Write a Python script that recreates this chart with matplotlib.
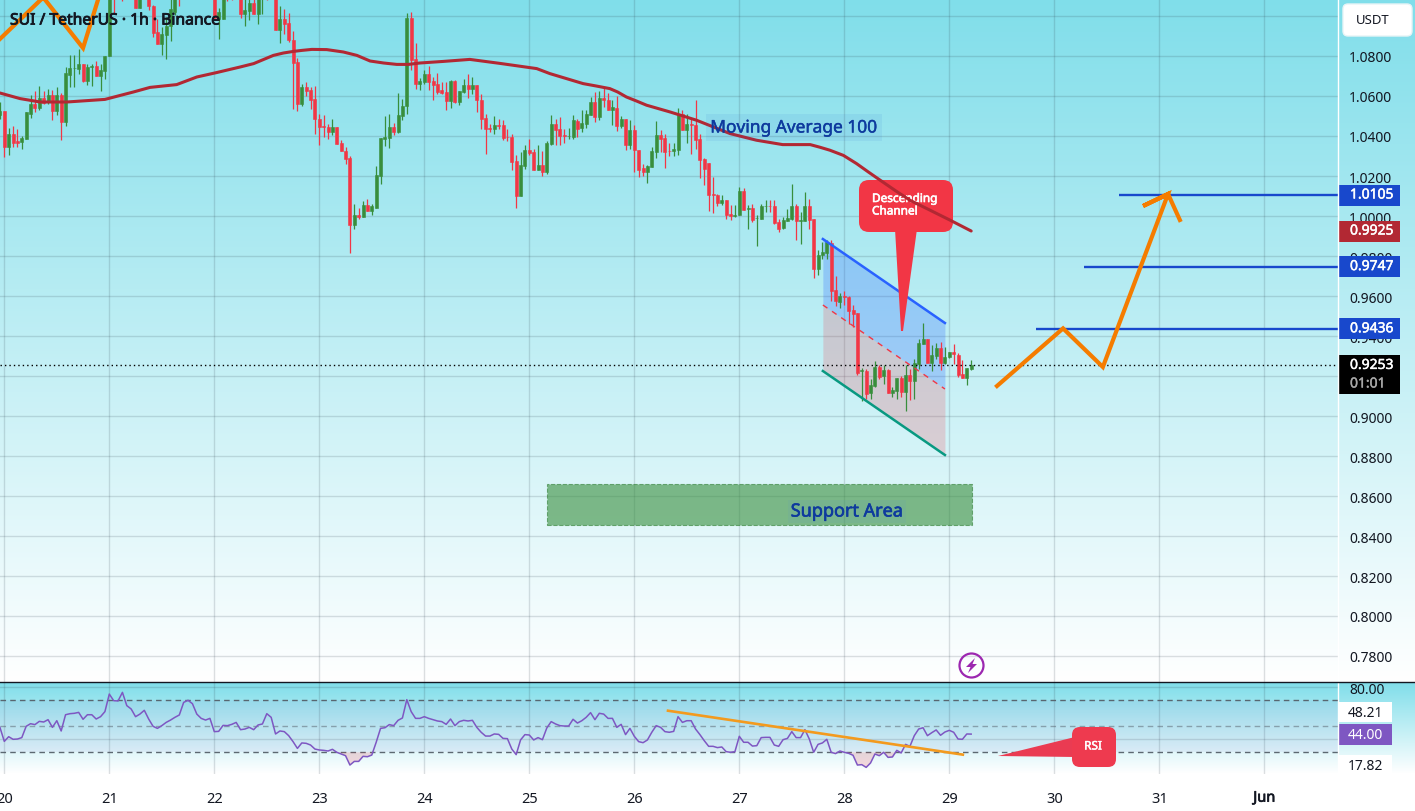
"""
SUI / TetherUS 1h candles with MA 100, descending channel and RSI pane
"""
import numpy as np
import matplotlib
matplotlib.use('Agg')
import matplotlib.pyplot as plt
import matplotlib.patheffects as pe
from matplotlib.lines import Line2D
from matplotlib.patches import Circle, FancyBboxPatch, Polygon, Rectangle
from matplotlib.transforms import Affine2D, blended_transform_factory

plt.rcParams['font.family'] = ['Noto Sans', 'DejaVu Sans']

# hourly candles, first one is the last hour of May 19
opens = [
    1.0504, 1.0527, 1.0347, 1.0412, 1.0375, 1.0372, 1.0387, 1.0512, 1.0560, 1.0542,
    1.0590, 1.0570, 1.0605, 1.0524, 1.0605, 1.0472, 1.0707, 1.0739, 1.0737, 1.0762,
    1.0677, 1.0744, 1.0752, 1.0702, 1.0727, 1.0800, 1.1140, 1.1100, 1.1130, 1.1130,
    1.1110, 1.1160, 1.1042, 1.1130, 1.1120, 1.1050, 1.0920, 1.0862, 1.0907, 1.0950,
    1.1020, 1.1130, 1.1095, 1.1130, 1.1110, 1.1150, 1.1120, 1.1170, 1.1140, 1.1170,
    1.0987, 1.0987, 1.1120, 1.1100, 1.1095, 1.1130, 1.1012, 1.1025, 1.1067, 1.1012,
    1.1090, 1.1120, 1.1095, 1.1130, 1.0932, 1.0987, 1.0967, 1.0882, 1.0770, 1.0559,
    1.0647, 1.0632, 1.0587, 1.0487, 1.0452, 1.0447, 1.0420, 1.0447, 1.0367, 1.0327,
    1.0292, 0.9957, 1.0007, 0.9997, 1.0057, 1.0027, 1.0042, 1.0202, 1.0387, 1.0392,
    1.0447, 1.0420, 1.0502, 1.0552, 1.0992, 1.0787, 1.0662, 1.0670, 1.0712, 1.0677,
    1.0662, 1.0632, 1.0622, 1.0577, 1.0677, 1.0572, 1.0622, 1.0657, 1.0637, 1.0657,
    1.0582, 1.0492, 1.0442, 1.0437, 1.0457, 1.0457, 1.0397, 1.0397, 1.0277, 1.0102,
    1.0252, 1.0332, 1.0322, 1.0232, 1.0257, 1.0222, 1.0362, 1.0462, 1.0437, 1.0407,
    1.0399, 1.0397, 1.0477, 1.0442, 1.0462, 1.0507, 1.0572, 1.0497, 1.0592, 1.0582,
    1.0532, 1.0542, 1.0452, 1.0487, 1.0357, 1.0432, 1.0332, 1.0242, 1.0222, 1.0247,
    1.0322, 1.0407, 1.0392, 1.0327, 1.0327, 1.0332, 1.0512, 1.0432, 1.0462, 1.0457,
    1.0387, 1.0287, 1.0267, 1.0112, 1.0107, 1.0067, 1.0082, 1.0012, 1.0000, 1.0007,
    1.0127, 1.0037, 1.0042, 0.9989, 0.9987, 1.0049, 1.0052, 1.0052, 0.9972, 0.9942,
    0.9977, 0.9987, 1.0052, 0.9977, 0.9977, 1.0052, 0.9987, 0.9737, 0.9807, 0.9817,
    0.9867, 0.9632, 0.9570, 0.9600, 0.9595, 0.9532, 0.9517, 0.9227, 0.9227, 0.9117,
    0.9152, 0.9247, 0.9202, 0.9232, 0.9117, 0.9127, 0.9192, 0.9122, 0.9207, 0.9177,
    0.9262, 0.9362, 0.9387, 0.9267, 0.9302, 0.9342, 0.9267, 0.9294, 0.9322, 0.9307,
    0.9212, 0.9192, 0.9237]
highs = [
    1.0570, 1.0527, 1.0440, 1.0450, 1.0437, 1.0400, 1.0520, 1.0604, 1.0625, 1.0650,
    1.0625, 1.0637, 1.0629, 1.0645, 1.0617, 1.0745, 1.0804, 1.0807, 1.0837, 1.0762,
    1.0762, 1.0762, 1.0777, 1.0762, 1.0802, 1.1160, 1.1180, 1.1150, 1.1160, 1.1170,
    1.1180, 1.1190, 1.1180, 1.1160, 1.1150, 1.1054, 1.0987, 1.0945, 1.0995, 1.1100,
    1.1150, 1.1170, 1.1160, 1.1180, 1.1170, 1.1190, 1.1200, 1.1210, 1.1190, 1.1200,
    1.1040, 1.1150, 1.1150, 1.1140, 1.1150, 1.1160, 1.1090, 1.1095, 1.1095, 1.1130,
    1.1130, 1.1140, 1.1150, 1.1160, 1.1050, 1.1034, 1.1017, 1.0925, 1.0790, 1.0662,
    1.0670, 1.0645, 1.0650, 1.0512, 1.0504, 1.0462, 1.0487, 1.0447, 1.0382, 1.0345,
    1.0300, 1.0062, 1.0042, 1.0077, 1.0087, 1.0062, 1.0250, 1.0392, 1.0499, 1.0512,
    1.0467, 1.0617, 1.0587, 1.1017, 1.1020, 1.0867, 1.0692, 1.0732, 1.0750, 1.0695,
    1.0717, 1.0670, 1.0670, 1.0682, 1.0682, 1.0627, 1.0687, 1.0712, 1.0695, 1.0657,
    1.0612, 1.0512, 1.0462, 1.0500, 1.0487, 1.0479, 1.0434, 1.0412, 1.0304, 1.0320,
    1.0357, 1.0387, 1.0337, 1.0357, 1.0324, 1.0377, 1.0507, 1.0487, 1.0495, 1.0437,
    1.0440, 1.0504, 1.0487, 1.0529, 1.0529, 1.0595, 1.0620, 1.0624, 1.0645, 1.0617,
    1.0579, 1.0600, 1.0500, 1.0487, 1.0479, 1.0457, 1.0332, 1.0262, 1.0257, 1.0345,
    1.0477, 1.0432, 1.0412, 1.0367, 1.0367, 1.0540, 1.0529, 1.0512, 1.0487, 1.0582,
    1.0412, 1.0290, 1.0267, 1.0195, 1.0112, 1.0104, 1.0082, 1.0057, 1.0054, 1.0145,
    1.0140, 1.0057, 1.0062, 1.0004, 1.0062, 1.0079, 1.0082, 1.0079, 0.9987, 0.9995,
    1.0037, 1.0162, 1.0062, 1.0020, 1.0120, 1.0084, 0.9987, 0.9829, 0.9870, 0.9882,
    0.9879, 0.9700, 0.9617, 0.9624, 0.9600, 0.9557, 0.9517, 0.9240, 0.9237, 0.9187,
    0.9274, 0.9257, 0.9257, 0.9237, 0.9145, 0.9192, 0.9199, 0.9254, 0.9237, 0.9287,
    0.9387, 0.9467, 0.9387, 0.9354, 0.9367, 0.9370, 0.9345, 0.9322, 0.9362, 0.9315,
    0.9282, 0.9242, 0.9282]
lows = [
    1.0487, 1.0294, 1.0304, 1.0345, 1.0347, 1.0334, 1.0387, 1.0492, 1.0520, 1.0529,
    1.0562, 1.0562, 1.0479, 1.0504, 1.0379, 1.0449, 1.0645, 1.0645, 1.0712, 1.0670,
    1.0657, 1.0650, 1.0700, 1.0627, 1.0687, 1.0799, 1.1012, 1.1095, 1.1074, 1.1095,
    1.1095, 1.1042, 1.1042, 1.1095, 1.1029, 1.0895, 1.0862, 1.0804, 1.0784, 1.0874,
    1.1004, 1.1050, 1.1092, 1.1095, 1.1095, 1.1100, 1.1100, 1.1130, 1.1120, 1.0979,
    1.0884, 1.0987, 1.1074, 1.1079, 1.1090, 1.0990, 1.0949, 1.0979, 1.1012, 1.0962,
    1.1009, 1.1079, 1.1090, 1.0932, 1.0867, 1.0912, 1.0870, 1.0537, 1.0524, 1.0550,
    1.0600, 1.0534, 1.0412, 1.0354, 1.0395, 1.0387, 1.0407, 1.0362, 1.0325, 1.0259,
    0.9817, 0.9934, 0.9984, 0.9997, 1.0027, 1.0004, 1.0042, 1.0162, 1.0352, 1.0342,
    1.0407, 1.0415, 1.0482, 1.0512, 1.0729, 1.0634, 1.0629, 1.0662, 1.0629, 1.0582,
    1.0612, 1.0612, 1.0532, 1.0542, 1.0567, 1.0557, 1.0617, 1.0592, 1.0612, 1.0520,
    1.0437, 1.0312, 1.0420, 1.0412, 1.0437, 1.0382, 1.0374, 1.0229, 1.0042, 1.0102,
    1.0237, 1.0307, 1.0229, 1.0229, 1.0200, 1.0212, 1.0354, 1.0354, 1.0357, 1.0367,
    1.0387, 1.0387, 1.0395, 1.0420, 1.0440, 1.0504, 1.0470, 1.0479, 1.0545, 1.0529,
    1.0454, 1.0424, 1.0440, 1.0332, 1.0337, 1.0220, 1.0195, 1.0199, 1.0167, 1.0245,
    1.0290, 1.0320, 1.0242, 1.0300, 1.0299, 1.0307, 1.0429, 1.0367, 1.0312, 1.0337,
    1.0192, 1.0157, 1.0025, 1.0017, 1.0050, 1.0054, 0.9987, 0.9982, 0.9995, 1.0007,
    1.0032, 0.9937, 0.9970, 0.9849, 0.9987, 1.0020, 1.0020, 0.9962, 0.9920, 0.9934,
    0.9977, 0.9979, 0.9879, 0.9862, 0.9974, 0.9937, 0.9692, 0.9704, 0.9787, 0.9784,
    0.9574, 0.9550, 0.9542, 0.9557, 0.9462, 0.9445, 0.9207, 0.9074, 0.9087, 0.9087,
    0.9145, 0.9187, 0.9162, 0.9117, 0.9095, 0.9087, 0.9095, 0.9027, 0.9082, 0.9087,
    0.9237, 0.9362, 0.9267, 0.9227, 0.9287, 0.9232, 0.9262, 0.9292, 0.9262, 0.9195,
    0.9192, 0.9157, 0.9232]
closes = [
    1.0524, 1.0347, 1.0412, 1.0367, 1.0367, 1.0392, 1.0520, 1.0560, 1.0542, 1.0590,
    1.0567, 1.0605, 1.0527, 1.0605, 1.0472, 1.0717, 1.0742, 1.0742, 1.0762, 1.0677,
    1.0747, 1.0752, 1.0702, 1.0732, 1.0802, 1.1140, 1.1100, 1.1130, 1.1110, 1.1110,
    1.1160, 1.1042, 1.1130, 1.1100, 1.1050, 1.0917, 1.0862, 1.0912, 1.0950, 1.1037,
    1.1120, 1.1095, 1.1130, 1.1110, 1.1150, 1.1120, 1.1170, 1.1140, 1.1170, 1.0990,
    1.1020, 1.1100, 1.1095, 1.1090, 1.1130, 1.1012, 1.1032, 1.1067, 1.1012, 1.1090,
    1.1100, 1.1095, 1.1130, 1.0932, 1.0987, 1.0962, 1.0879, 1.0767, 1.0562, 1.0647,
    1.0627, 1.0582, 1.0484, 1.0447, 1.0444, 1.0422, 1.0447, 1.0362, 1.0327, 1.0287,
    0.9957, 1.0007, 0.9997, 1.0057, 1.0027, 1.0052, 1.0207, 1.0392, 1.0397, 1.0447,
    1.0422, 1.0507, 1.0552, 1.0992, 1.0782, 1.0662, 1.0677, 1.0712, 1.0672, 1.0657,
    1.0622, 1.0617, 1.0577, 1.0677, 1.0572, 1.0627, 1.0657, 1.0637, 1.0657, 1.0579,
    1.0487, 1.0437, 1.0437, 1.0457, 1.0452, 1.0392, 1.0394, 1.0272, 1.0102, 1.0257,
    1.0330, 1.0317, 1.0232, 1.0257, 1.0222, 1.0367, 1.0462, 1.0432, 1.0402, 1.0402,
    1.0402, 1.0482, 1.0437, 1.0467, 1.0512, 1.0572, 1.0497, 1.0592, 1.0579, 1.0532,
    1.0547, 1.0452, 1.0487, 1.0357, 1.0432, 1.0332, 1.0232, 1.0222, 1.0252, 1.0327,
    1.0407, 1.0387, 1.0322, 1.0324, 1.0337, 1.0512, 1.0432, 1.0462, 1.0457, 1.0382,
    1.0282, 1.0237, 1.0107, 1.0107, 1.0067, 1.0082, 1.0007, 1.0000, 1.0007, 1.0127,
    1.0032, 1.0040, 0.9982, 0.9992, 1.0052, 1.0052, 1.0049, 0.9967, 0.9937, 0.9982,
    0.9992, 1.0052, 0.9977, 0.9982, 1.0052, 0.9982, 0.9737, 0.9807, 0.9822, 0.9872,
    0.9627, 0.9575, 0.9600, 0.9595, 0.9527, 0.9512, 0.9217, 0.9232, 0.9112, 0.9157,
    0.9247, 0.9197, 0.9232, 0.9117, 0.9132, 0.9192, 0.9122, 0.9207, 0.9177, 0.9267,
    0.9367, 0.9387, 0.9267, 0.9307, 0.9342, 0.9267, 0.9297, 0.9322, 0.9312, 0.9207,
    0.9192, 0.9242, 0.9253]

rsi = [
    49.2, 38.4, 42.0, 40.0, 40.2, 41.3, 50.0, 52.0, 51.3, 53.8,
    53.3, 55.1, 49.2, 54.3, 46.4, 58.9, 59.7, 60.0, 60.7, 55.4,
    58.9, 58.9, 55.6, 57.4, 61.3, 74.8, 69.7, 69.5, 76.1, 65.9,
    63.3, 57.4, 59.4, 62.3, 55.6, 50.0, 48.4, 50.5, 53.0, 54.8,
    56.9, 58.7, 68.4, 70.0, 67.4, 59.4, 56.1, 54.8, 56.1, 45.9,
    46.1, 50.7, 50.5, 51.5, 53.0, 47.4, 47.9, 49.2, 47.4, 51.0,
    51.8, 59.7, 56.9, 44.1, 46.4, 45.9, 42.8, 38.2, 33.0, 37.2,
    36.9, 35.6, 32.5, 31.8, 31.5, 31.0, 32.3, 30.0, 28.7, 27.4,
    20.2, 23.0, 23.0, 26.9, 26.6, 27.9, 37.7, 48.4, 48.9, 51.3,
    50.5, 54.6, 56.4, 70.5, 61.3, 56.1, 56.1, 57.4, 56.1, 55.1,
    54.1, 53.6, 51.5, 55.6, 50.5, 53.6, 54.6, 54.1, 54.6, 49.2,
    45.4, 42.5, 42.5, 44.1, 43.8, 40.7, 40.5, 32.5, 28.2, 39.5,
    43.6, 43.3, 39.5, 41.3, 39.7, 48.7, 53.6, 51.8, 50.5, 50.2,
    50.2, 55.4, 52.5, 54.3, 56.9, 60.5, 55.1, 60.0, 59.4, 56.1,
    56.1, 49.2, 51.5, 43.6, 48.4, 42.3, 38.2, 37.4, 39.5, 45.4,
    50.5, 49.2, 45.9, 45.4, 46.1, 57.4, 53.0, 54.3, 54.3, 47.9,
    43.6, 38.9, 34.6, 34.6, 33.6, 34.1, 30.5, 30.0, 30.5, 42.3,
    37.7, 37.7, 34.8, 35.1, 41.3, 41.5, 41.5, 35.6, 34.6, 39.7,
    40.7, 45.9, 41.3, 41.3, 47.4, 40.2, 30.0, 36.1, 37.2, 40.0,
    30.0, 29.0, 31.0, 30.0, 29.2, 27.7, 20.2, 20.5, 18.4, 21.8,
    28.7, 27.4, 30.0, 26.1, 26.4, 31.5, 29.5, 36.1, 34.6, 42.8,
    47.9, 48.9, 42.8, 45.1, 47.2, 43.1, 45.6, 46.9, 45.4, 40.2,
    40.0, 44.1, 44.0]

ma_hours = [-1, 3.6, 8.2, 14.3, 23.0, 29.5, 33.3, 39.4, 44.0, 48.5, 53.9, 57.0,
            61.5, 63.8, 66.1, 68.0, 70.3, 73.7, 77.5, 80.6, 83.6, 86.7, 89.7, 92.4,
            95.0, 100.4, 106.4, 113.3, 121.7, 124.7, 128.5, 132.3, 135.3, 138.4,
            140.2, 142.2, 144.5, 146.8, 152.2, 158.2, 165.9, 171.9, 177.9, 184.2,
            186.4, 188.7, 191.8, 194.8, 197.5, 200.2, 203.6, 207.0, 211.6, 216.2, 221.0]
ma_values = [1.0615, 1.0587, 1.0570, 1.0570, 1.0583, 1.0620, 1.0643, 1.0657, 1.0695,
             1.0717, 1.0745, 1.0762, 1.0803, 1.0815, 1.0823, 1.0828, 1.0833, 1.0832,
             1.0820, 1.0803, 1.0775, 1.0765, 1.0758, 1.0758, 1.0765, 1.0773, 1.0783,
             1.0763, 1.0737, 1.0712, 1.0687, 1.0662, 1.0650, 1.0637, 1.0620, 1.0595,
             1.0575, 1.0554, 1.0520, 1.0479, 1.0412, 1.0379, 1.0357, 1.0357, 1.0344,
             1.0329, 1.0303, 1.0262, 1.0220, 1.0179, 1.0128, 1.0079, 1.0029, 0.9979, 0.9925]

price_ticks = [0.78, 0.80, 0.82, 0.84, 0.86, 0.88, 0.90, 0.92, 0.94, 0.96, 0.98,
               1.00, 1.02, 1.04, 1.06, 1.08, 1.10]
day_labels = ['20', '21', '22', '23', '24', '25', '26', '27', '28', '29', '30', '31', 'Jun']

channel_hours = [187.1, 215.0]
channel_top = [0.9885, 0.9465]
channel_mid = [0.9555, 0.9135]
channel_bottom = [0.9225, 0.8805]

support_hours = [124.0, 221.2]
support_prices = [0.8455, 0.8660]

old_path_hours = [-1.0, 8.9, 18.0, 21.9]
old_path_prices = [1.0885, 1.1093, 1.0840, 1.1115]
path_hours = [226.9, 242.0, 251.1, 266.0, 260.3, 266.0, 268.7]
path_prices = [0.9150, 0.9438, 0.9245, 1.0110, 1.0050, 1.0110, 0.9980]

target_levels = [1.0105, 0.9747, 0.9436]
target_starts = [254.8, 246.8, 235.8]
ma_last = 0.9925
last_price = 0.9253
rsi_last = 44.00

trend_hours = [151.7, 219.1]
trend_rsi = [62.0, 28.2]

RED = '#F23645'
GREEN = '#388E3C'
BLUE = '#1848CC'
INK = '#131722'
LABEL_BLUE = '#0E3A9E'
ORANGE = '#F57C00'
PURPLE = '#7E57C2'

W, H = 1415, 812
RIGHT = 1338   # left edge of the price scale
MAIN_BOTTOM = 683
RSI_BOTTOM = 775
HOUR_PX = 4.375
HOUR_LEFT = -4.3 / HOUR_PX


def heavy(color, width=0.45):
    # the installed sans has no real bold, so thicken the glyph outline
    return [pe.withStroke(linewidth=width, foreground=color)]


fig = plt.figure(figsize=(W / 100, H / 100), dpi=100, facecolor='white')
# pixel coordinates, origin top left
px = Affine2D().scale(1, -1).translate(0, H)

# page background, one cyan-to-white fade per pane
top = np.array([128, 222, 234]) / 255
shade = np.ones((H, 1, 3))
shade[:MAIN_BOTTOM, 0] = top + (1 - top) * np.linspace(0, 1, MAIN_BOTTOM)[:, None]
shade[MAIN_BOTTOM:RSI_BOTTOM, 0] = top + (1 - top) * np.linspace(0, 1, RSI_BOTTOM - MAIN_BOTTOM)[:, None]
bg = fig.add_axes([0, 0, 1, 1], zorder=-1)
bg.imshow(shade, aspect='auto', interpolation='nearest')
bg.axis('off')

ax = fig.add_axes([0, (H - MAIN_BOTTOM) / H, RIGHT / W, MAIN_BOTTOM / H], facecolor='none')
ax_rsi = fig.add_axes([0, (H - RSI_BOTTOM) / H, RIGHT / W, (RSI_BOTTOM - MAIN_BOTTOM) / H], facecolor='none')

day_ticks = [24 * i for i in range(len(day_labels))]
for a in (ax, ax_rsi):
    a.set_xlim(HOUR_LEFT, HOUR_LEFT + RIGHT / HOUR_PX)
    a.set_xticks(day_ticks)
    a.set_axisbelow(True)
    a.grid(True, color='#2A3A48', alpha=0.16, linewidth=1)
    a.yaxis.tick_right()
    a.tick_params(length=0, labelsize=10, labelcolor=INK, pad=8)
    for spine in a.spines.values():
        spine.set_visible(False)

ax.set_ylim(1 + (217 - MAIN_BOTTOM) / 2000, 1 + 217 / 2000)
ax.set_yticks(price_ticks)
# 0.92 sits behind the last price box and 1.10 behind the currency button
ax.set_yticklabels(['' if p in (0.92, 1.10) else '%.4f' % p for p in price_ticks])
ax.tick_params(axis='x', labelbottom=False)

# candles
hours = np.arange(len(closes)) - 1
opens_a, closes_a = np.array(opens), np.array(closes)
colors = np.where(closes_a >= opens_a, GREEN, RED)
ax.vlines(hours, lows, highs, colors=colors, linewidth=0.9, zorder=3)
ax.bar(hours, np.abs(closes_a - opens_a), bottom=np.minimum(opens_a, closes_a), width=0.7,
       color=colors, edgecolor=colors, linewidth=0.4, zorder=3)

# descending channel
ax.fill_between(channel_hours, channel_mid, channel_top, color='#2962FF', alpha=0.25, linewidth=0, zorder=2)
ax.fill_between(channel_hours, channel_bottom, channel_mid, color=RED, alpha=0.2, linewidth=0, zorder=2)
ax.plot(channel_hours, channel_top, color='#2962FF', linewidth=1.8, zorder=4)
ax.plot(channel_hours, channel_mid, color=RED, linewidth=1, linestyle=(0, (4, 4)), zorder=4)
ax.plot(channel_hours, channel_bottom, color='#089981', linewidth=1.8, zorder=4)

# support zone
ax.add_patch(Rectangle((support_hours[0], support_prices[0]), support_hours[1] - support_hours[0],
                       support_prices[1] - support_prices[0], facecolor='#388E3C', alpha=0.6,
                       edgecolor='#2E7D32', linewidth=0.8, linestyle='--', zorder=2))
ax.text(847, 512.5, 'Support Area', color=LABEL_BLUE, fontsize=13, ha='center', va='center',
        transform=px, zorder=6, path_effects=heavy(LABEL_BLUE),
        bbox=dict(facecolor='#5C9BC8', alpha=0.12, edgecolor='none', pad=2))

# callout pointing at the channel, sits under the moving average
ax.add_patch(Polygon([(895, 230), (917, 230), (903, 332), (901, 332)], closed=True, facecolor=RED,
                     edgecolor='none', transform=px, clip_on=False, zorder=4.5))
ax.add_patch(FancyBboxPatch((859, 181), 94, 52, boxstyle='round,pad=0,rounding_size=10', facecolor=RED,
                            edgecolor='none', transform=px, clip_on=False, zorder=4.5))
ax.text(872, 199.5, 'Descending', color='white', fontsize=8.5, ha='left', va='center',
        transform=px, zorder=4.6, path_effects=heavy('white'))
ax.text(872, 212, 'Channel', color='white', fontsize=8.5, ha='left', va='center',
        transform=px, zorder=4.6, path_effects=heavy('white'))

# moving average
ax.plot(ma_hours, ma_values, color='#B22833', linewidth=2.2, solid_capstyle='round', zorder=5)
ax.text(794, 128.5, 'Moving Average 100', color=LABEL_BLUE, fontsize=12.5, ha='center', va='center',
        transform=px, zorder=6, path_effects=heavy(LABEL_BLUE, 0.3),
        bbox=dict(facecolor='#2060D0', alpha=0.08, edgecolor='none', pad=3))

# target levels and projected path
ax.hlines(target_levels, target_starts, HOUR_LEFT + RIGHT / HOUR_PX, colors=BLUE, linewidth=1.7, zorder=5)
ax.plot(old_path_hours, old_path_prices, color=ORANGE, linewidth=3, solid_joinstyle='miter', zorder=5)
ax.plot(path_hours, path_prices, color=ORANGE, linewidth=3, solid_joinstyle='miter', zorder=5)

# last price
ax.axhline(last_price, color='black', linewidth=1, linestyle=(0, (1, 2.2)), zorder=4)

ax.text(10, 21.5, 'SUI / TetherUS · 1h · Binance', color=INK, fontsize=11.3, ha='left', va='center',
        transform=px, zorder=7, path_effects=heavy(INK, 0.6))

# price scale badges
scale = blended_transform_factory(ax.transAxes, ax.transData)
badge_x = (RIGHT + 1) / RIGHT
badge_w = 61 / RIGHT
text_x = 1350 / RIGHT


def price_badge(value, color):
    ax.add_patch(Rectangle((badge_x, value - 0.00525), badge_w, 0.0105, facecolor=color, edgecolor='none',
                           transform=scale, clip_on=False, zorder=8))
    ax.text(text_x, value, '%.4f' % value, color='white', fontsize=10, ha='left', va='center',
            transform=scale, clip_on=False, zorder=9, path_effects=heavy('white', 0.35))


for level in target_levels:
    price_badge(level, BLUE)
price_badge(ma_last, '#B22833')
ax.add_patch(Rectangle((badge_x, last_price - 0.0143), badge_w, 0.0195, facecolor='black', edgecolor='none',
                       transform=scale, clip_on=False, zorder=8))
ax.text(text_x, last_price, '%.4f' % last_price, color='white', fontsize=10, ha='left', va='center',
        transform=scale, clip_on=False, zorder=9, path_effects=heavy('white', 0.35))
ax.text(text_x, last_price - 0.0093, '01:01', color='#A8A8A8', fontsize=10, ha='left', va='center',
        transform=scale, clip_on=False, zorder=9, path_effects=heavy('#A8A8A8', 0.3))

# currency button over the scale
ax.add_patch(FancyBboxPatch((1343, 5), 69, 32, boxstyle='round,pad=0,rounding_size=5', facecolor='white',
                            edgecolor='#E8F4F6', linewidth=1, transform=px, clip_on=False, zorder=8))
ax.text(1373, 21, 'USDT', color=INK, fontsize=9.5, ha='center', va='center', transform=px, zorder=9)

# alert icon
ax.add_patch(Circle((971.5, 666.5), 12, facecolor='none', edgecolor='#9C27B0', linewidth=1.6,
                    transform=px, clip_on=False, zorder=6))
ax.add_patch(Polygon([(975, 659), (966, 668), (970.5, 668), (968, 674), (977, 665), (972.5, 665)], closed=True,
                     facecolor='#9C27B0', edgecolor='none', transform=px, clip_on=False, zorder=6))

# RSI pane
ax_rsi.set_ylim(80 - (RSI_BOTTOM - 688.3) / 1.3, 80 + (688.3 - MAIN_BOTTOM) / 1.3)
ax_rsi.set_yticks([80, 40])
ax_rsi.set_yticklabels(['80.00', ''])
ax_rsi.set_xticklabels(day_labels)
ax_rsi.tick_params(axis='x', labelsize=10.5, pad=12)
ax_rsi.get_xticklabels()[-1].set_path_effects(heavy(INK, 0.5))
ax_rsi.axhspan(30, 70, color=PURPLE, alpha=0.07, linewidth=0, zorder=1)
for band, band_alpha in ((70, 0.95), (50, 0.5), (30, 0.95)):
    ax_rsi.axhline(band, color='#55606A', alpha=band_alpha, linewidth=1, linestyle=(0, (4, 3)), zorder=1.5)
rsi_a = np.array(rsi)
ax_rsi.fill_between(hours, rsi_a, 30, where=rsi_a < 30, interpolate=True, color=RED, alpha=0.18,
                    linewidth=0, zorder=2)
ax_rsi.plot(hours, rsi_a, color=PURPLE, linewidth=1.1, zorder=3)
ax_rsi.plot(trend_hours, trend_rsi, color='#F39A1E', linewidth=1.9, zorder=4)

# side labels of the RSI pane
for y0, y1, label, face, ink in [(703, 723, '48.21', 'white', INK),
                                 (725, 746, '%.2f' % rsi_last, PURPLE, 'white'),
                                 (756, 776, '17.82', 'white', INK)]:
    ax_rsi.add_patch(Rectangle((RIGHT, y0), 54, y1 - y0, facecolor=face, edgecolor='none', transform=px,
                               clip_on=False, zorder=8))
    ax_rsi.text(RIGHT + 27, (y0 + y1) / 2 + 0.5, label, color=ink, fontsize=10, ha='center', va='center',
                transform=px, zorder=9)

# RSI callout
ax_rsi.add_patch(Polygon([(998, 757), (1075, 738), (1075, 758)], closed=True, facecolor='#EA3B52',
                         edgecolor='none', transform=px, clip_on=False, zorder=6))
ax_rsi.add_patch(FancyBboxPatch((1072, 728), 44, 40, boxstyle='round,pad=0,rounding_size=8', facecolor='#EE3A4F',
                                edgecolor='none', transform=px, clip_on=False, zorder=6))
ax_rsi.text(1093, 747, 'RSI', color='white', fontsize=8.5, ha='center', va='center',
            transform=px, zorder=7, path_effects=heavy('white', 0.35))

# pane separators
fig.add_artist(Line2D([0, W], [MAIN_BOTTOM, MAIN_BOTTOM], color=INK, linewidth=1, transform=px, zorder=10))
fig.add_artist(Line2D([RIGHT, RIGHT], [0, RSI_BOTTOM], color='white', linewidth=1, transform=px, zorder=1))

plt.savefig('out.png', dpi=100)
